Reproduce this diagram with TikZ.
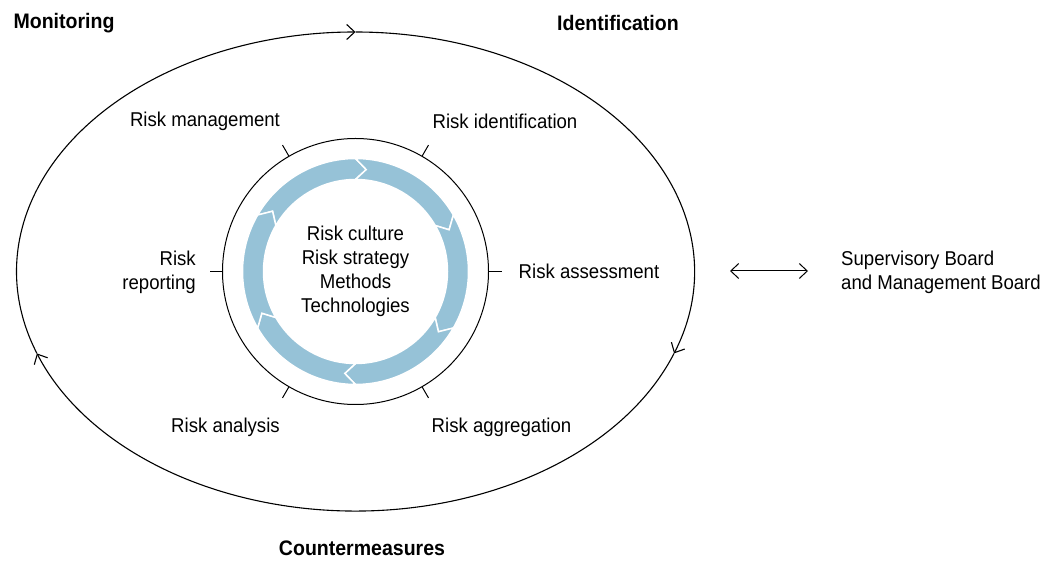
\documentclass[tikz,border=0pt]{standalone}
\usepackage{fontspec}
\setmainfont[FakeStretch=0.93]{Liberation Sans}
\usetikzlibrary{arrows.meta}
\definecolor{ringblue}{RGB}{150,194,215}

\begin{document}
\begin{tikzpicture}[x=1pt,y=1pt,>={Straight Barb[length=8pt,width=15pt]},
	lbl/.style={font=\fontsize{20}{24}\selectfont,inner sep=0pt},
	head/.style={font=\fontsize{21}{24}\selectfont\bfseries,inner sep=0pt}]
		\useasboundingbox (0,0) rectangle (1042,560);

		\coordinate (CENTER) at (355.5,288.5);

		% outer cycle, drawn clockwise in three pieces
		\draw [->,line width=1.1pt] ([shift={(200:339pt and 239.5pt)}]CENTER) arc[start angle=200,end angle=90,x radius=339pt,y radius=239.5pt];
		\draw [->,line width=1.1pt] ([shift={(90:339pt and 239.5pt)}]CENTER) arc[start angle=90,end angle=-20,x radius=339pt,y radius=239.5pt];
		\draw [->,line width=1.1pt] ([shift={(-20:339pt and 239.5pt)}]CENTER) arc[start angle=-20,end angle=-160,x radius=339pt,y radius=239.5pt];

		% inner circle with ticks
		\draw [line width=1pt] (CENTER) circle[radius=133pt];
		\foreach \a in {0,60,...,300}
			\draw [line width=1pt] (CENTER) ++(\a:133pt) -- ++(\a:13pt);

		% blue arrow ring
		\foreach \h in {90,30,...,-210}
			\filldraw [fill=ringblue,draw=white,line width=1.5pt,shift={(CENTER)}]
				(\h+60:113pt) arc[start angle=\h+60,end angle=\h,radius=113pt] -- (\h-6:102.5pt)
				-- (\h:92pt) arc[start angle=\h,end angle=\h+60,radius=92pt] -- (\h+54:102.5pt) -- cycle;

		\node [lbl,align=center] (core) at (CENTER) {Risk culture\\Risk strategy\\Methods\\Technologies};

		\node [lbl] (ident) at (505,439) {Risk identification};
		\node [lbl] (manag) at (205,439) {Risk management};
		\node [lbl] (assess) at (589,289) {Risk assessment};
		\node [lbl] (aggr) at (501.5,133) {Risk aggregation};
		\node [lbl] (analys) at (225.5,133) {Risk analysis};
		\node [lbl,align=right,anchor=east] (report) at (196,288) {Risk\\reporting};

		\node [lbl,align=left,anchor=west] (board) at (841,288) {Supervisory Board\\and Management Board};
		\coordinate (LEFTEND) at (730,289);
		\coordinate (RIGHTEND) at (808,289);
		\draw [<->,line width=1pt] (LEFTEND) -- (RIGHTEND);

		\node [head] (monit) at (64,537) {Monitoring};
		\node [head] (idhead) at (618,537) {Identification};
		\node [head] (counter) at (362,12) {Countermeasures};

	\end{tikzpicture}
\end{document}
